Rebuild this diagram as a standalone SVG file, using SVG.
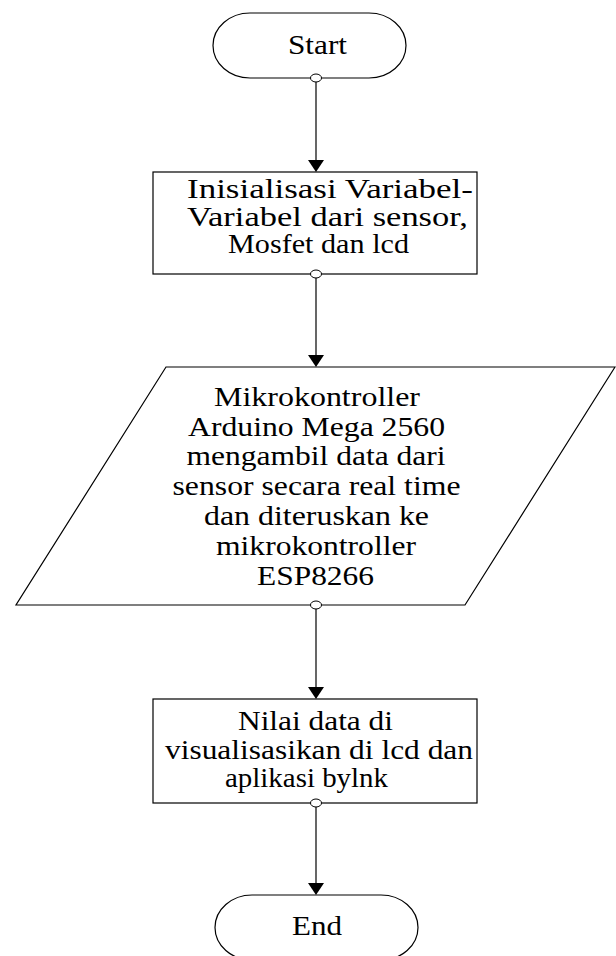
<svg xmlns="http://www.w3.org/2000/svg" width="616" height="956" viewBox="0 0 616 956">
<style>
.shape{fill:#fff;stroke:#000;stroke-width:1.2}
.lbl{font-family:"Liberation Serif","Times New Roman",serif;font-size:27px;fill:#000}
.conn{stroke:#000;stroke-width:1.2;fill:none}
.dot{fill:#fff;stroke:#000;stroke-width:1}
.head{fill:#000}
</style>
<rect width="616" height="956" fill="#fff"/>
<g id="connectors">
<line class="conn" x1="316" y1="78" x2="316" y2="162"/>
<polygon class="head" points="308,160 324,160 316,172"/>
<line class="conn" x1="316" y1="274" x2="316" y2="357"/>
<polygon class="head" points="308,355 324,355 316,367"/>
<line class="conn" x1="316" y1="605" x2="316" y2="689"/>
<polygon class="head" points="308,687 324,687 316,699"/>
<line class="conn" x1="316" y1="803" x2="316" y2="885"/>
<polygon class="head" points="308,883 324,883 316,895"/>
</g>
<g id="start">
<rect class="shape" x="213" y="13" width="193" height="65" rx="37" ry="32.5"/>
<text class="lbl" x="288" y="54" textLength="59" lengthAdjust="spacingAndGlyphs">Start</text>
</g>
<g id="init">
<rect class="shape" x="153" y="172" width="324" height="102"/>
<text class="lbl" x="187" y="198" textLength="286" lengthAdjust="spacingAndGlyphs">Inisialisasi Variabel-</text>
<text class="lbl" x="187" y="225.5" textLength="281" lengthAdjust="spacingAndGlyphs">Variabel dari sensor,</text>
<text class="lbl" x="228" y="253" textLength="181" lengthAdjust="spacingAndGlyphs">Mosfet dan lcd</text>
</g>
<g id="io">
<polygon class="shape" points="166,367 615,367 465,605 16,605"/>
<text class="lbl" x="214" y="406" textLength="206" lengthAdjust="spacingAndGlyphs">Mikrokontroller</text>
<text class="lbl" x="188" y="435.7" textLength="257" lengthAdjust="spacingAndGlyphs">Arduino Mega 2560</text>
<text class="lbl" x="186.5" y="465.4" textLength="259" lengthAdjust="spacingAndGlyphs">mengambil data dari</text>
<text class="lbl" x="172.5" y="495.1" textLength="288" lengthAdjust="spacingAndGlyphs">sensor secara real time</text>
<text class="lbl" x="204" y="524.8" textLength="225" lengthAdjust="spacingAndGlyphs">dan diteruskan ke</text>
<text class="lbl" x="216" y="554.5" textLength="200" lengthAdjust="spacingAndGlyphs">mikrokontroller</text>
<text class="lbl" x="257" y="584.5" textLength="117" lengthAdjust="spacingAndGlyphs">ESP8266</text>
</g>
<g id="display">
<rect class="shape" x="153" y="699" width="324" height="104"/>
<text class="lbl" x="238" y="730" textLength="155" lengthAdjust="spacingAndGlyphs">Nilai data di</text>
<text class="lbl" x="165" y="759" textLength="308" lengthAdjust="spacingAndGlyphs">visualisasikan di lcd dan</text>
<text class="lbl" x="225" y="786.5" textLength="163" lengthAdjust="spacingAndGlyphs">aplikasi bylnk</text>
</g>
<g id="end">
<rect class="shape" x="215" y="895" width="203" height="65" rx="37" ry="32.5"/>
<text class="lbl" x="292" y="935" textLength="50" lengthAdjust="spacingAndGlyphs">End</text>
</g>
<g id="ports">
<ellipse class="dot" cx="316" cy="78" rx="5.5" ry="4"/>
<ellipse class="dot" cx="316" cy="274" rx="5.5" ry="4"/>
<ellipse class="dot" cx="316" cy="605" rx="5.5" ry="4"/>
<ellipse class="dot" cx="316" cy="803" rx="5.5" ry="4"/>
</g>
</svg>
